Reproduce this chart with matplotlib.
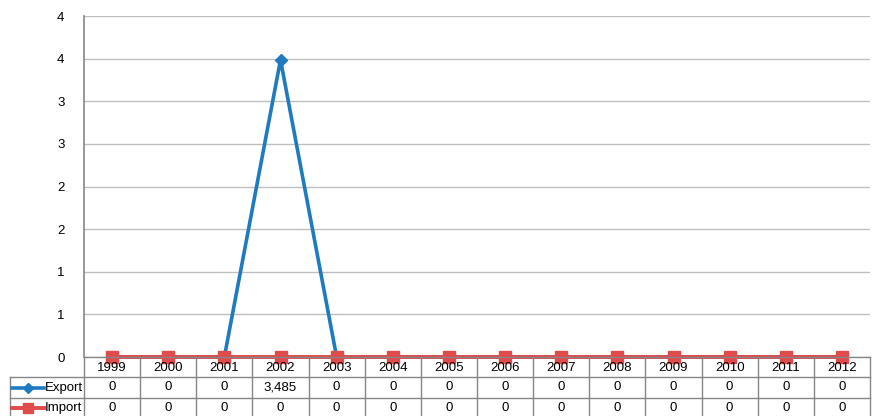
import matplotlib
matplotlib.use("Agg")
import matplotlib.pyplot as plt

years = ['1999', '2000', '2001', '2002', '2003', '2004', '2005', '2006',
         '2007', '2008', '2009', '2010', '2011', '2012']
export_vals = [0, 0, 0, 3.485, 0, 0, 0, 0, 0, 0, 0, 0, 0, 0]
import_vals = [0] * 14
export_text = ['0', '0', '0', '3,485'] + ['0'] * 10
import_text = ['0'] * 14
y_ticks = [0, 0.5, 1, 1.5, 2, 2.5, 3, 3.5, 4]
y_labels = ['0', '1', '1', '2', '2', '3', '3', '4', '4']

BLUE = '#1F7BC0'
RED = '#E04B4B'
GRID = '#BFBFBF'
AXIS = '#868686'
FS = 9.5
plt.rcParams['font.family'] = ['Liberation Sans', 'DejaVu Sans']

W, H = 872, 416
fig = plt.figure(figsize=(W / 100, H / 100), dpi=100)

# plot area in pixels
x0, x1, ytop, ybot = 84, 870, 16, 357
ax = fig.add_axes([x0 / W, (H - ybot) / H, (x1 - x0) / W, (ybot - ytop) / H])
xs = list(range(len(years)))
ax.plot(xs, export_vals, color=BLUE, lw=2.6, marker='D', ms=6, zorder=3, clip_on=False)
ax.plot(xs, import_vals, color=RED, lw=2.8, marker='s', ms=8, zorder=4, clip_on=False)
ax.set_xlim(-0.5, len(years) - 0.5)
ax.set_ylim(0, 4)
ax.set_yticks(y_ticks)
ax.set_yticklabels(y_labels, fontsize=FS)
ax.set_xticks([])
ax.tick_params(axis='y', length=0, pad=14)
ax.grid(axis='y', color=GRID, lw=1)
ax.set_axisbelow(True)
for s in ['top', 'right', 'bottom']:
    ax.spines[s].set_visible(False)
ax.spines['left'].set_color(AXIS)
ax.spines['left'].set_linewidth(1.2)

# data table below the plot (y in pixel units measured from figure bottom)
tab = fig.add_axes([x0 / W, 0, (x1 - x0) / W, (H - ybot) / H])
tab.set_xlim(-0.5, len(years) - 0.5)
tab.set_ylim(0, H - ybot)
tab.axis('off')
unit = (x1 - x0) / len(years)
xleft = -0.5 - (x0 - 10) / unit
r1, r2 = H - 377, H - 398
lc = dict(color=AXIS, lw=1, clip_on=False)
tab.plot([-0.5, len(years) - 0.5], [H - ybot, H - ybot], **lc)
tab.plot([xleft, len(years) - 0.5], [r1, r1], **lc)
tab.plot([xleft, len(years) - 0.5], [r2, r2], **lc)
tab.plot([xleft, xleft], [r1, -5], **lc)
for i in range(len(years) + 1):
    tab.plot([i - 0.5, i - 0.5], [H - ybot, -5], **lc)
for i, yr in enumerate(years):
    tab.text(i, (H - ybot + r1) / 2 - 1, yr, ha='center', va='center', fontsize=FS)
    tab.text(i, (r1 + r2) / 2, export_text[i], ha='center', va='center', fontsize=FS)
    tab.text(i, r2 / 2 - 1, import_text[i], ha='center', va='center', fontsize=FS)

# legend keys inside the table
kx0 = -0.5 - (x0 - 12) / unit
kx1 = -0.5 - (x0 - 44) / unit
km = (kx0 + kx1) / 2
tab.plot([kx0, kx1], [(r1 + r2) / 2] * 2, color=BLUE, lw=2.6, clip_on=False)
tab.plot([km], [(r1 + r2) / 2], color=BLUE, marker='D', ms=5, clip_on=False)
tab.plot([kx0, kx1], [r2 / 2 - 1] * 2, color=RED, lw=2.8, clip_on=False)
tab.plot([km], [r2 / 2 - 1], color=RED, marker='s', ms=7, clip_on=False)
tab.text(kx1 + 0.02, (r1 + r2) / 2, 'Export', ha='left', va='center', fontsize=FS)
tab.text(kx1 + 0.02, r2 / 2 - 1, 'Import', ha='left', va='center', fontsize=FS)

fig.savefig('out.png', dpi=100)
